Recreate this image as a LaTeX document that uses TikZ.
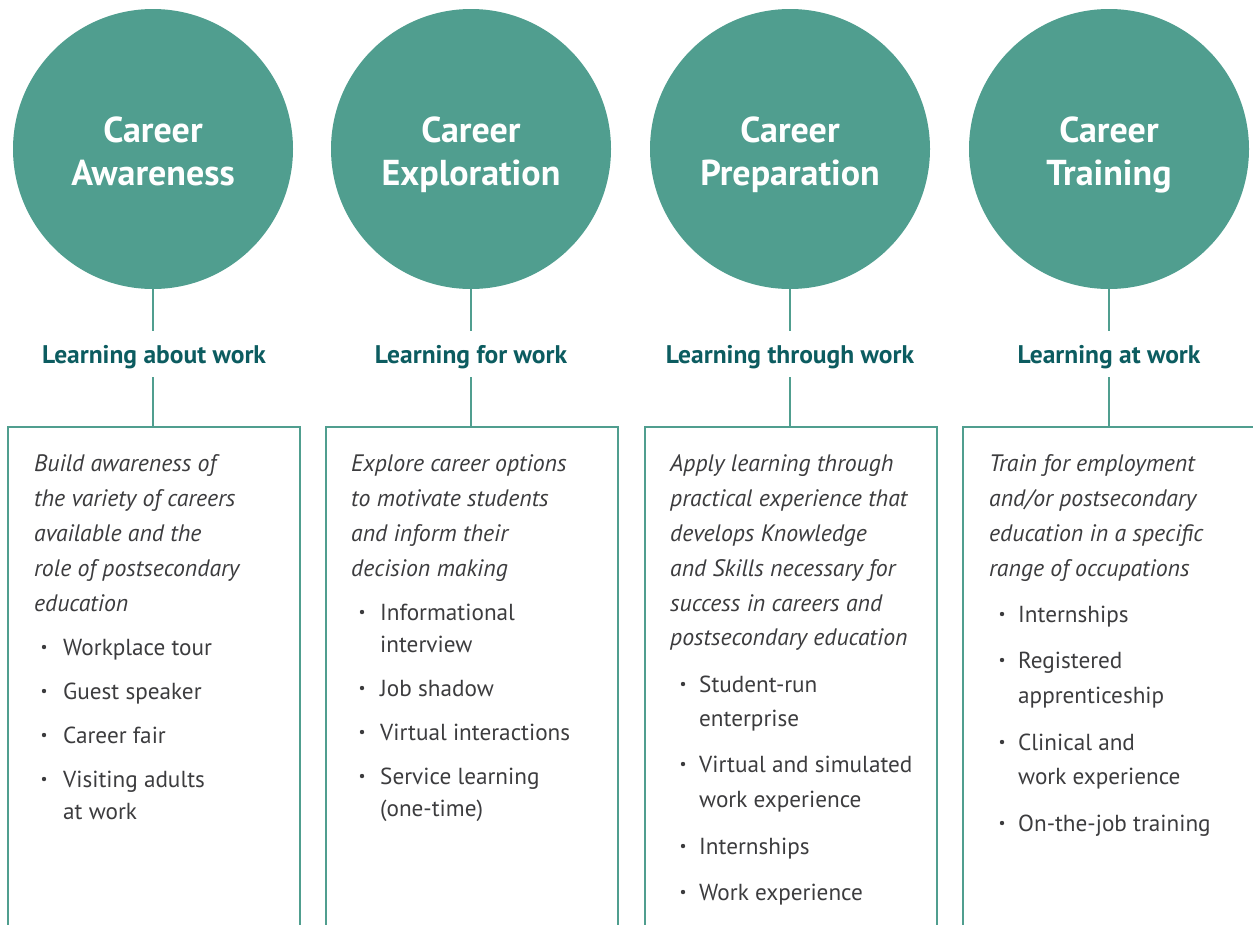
\documentclass[tikz,border=0pt]{standalone}
\usepackage{fontspec}
\setmainfont{PT Sans}
\definecolor{tealA}{RGB}{80,158,143}
\definecolor{labc}{RGB}{12,92,96}
\definecolor{txtc}{RGB}{60,60,62}
\begin{document}
\begin{tikzpicture}[x=1pt,y=-1pt,
 circ/.style={circle,fill=tealA,minimum size=280pt,inner sep=0pt},
 ctext/.style={anchor=north,text=white,font=\fontsize{36}{43}\selectfont\bfseries,align=center,inner sep=0pt},
 lab/.style={anchor=base,text=labc,font=\fontsize{25.5}{30}\selectfont\bfseries,inner sep=0pt},
 link/.style={draw=tealA,line width=2.5pt},
 boxl/.style={draw=tealA,line width=2.5pt},
 desc/.style={anchor=base west,inner sep=0pt,text=txtc,font=\fontsize{23.8}{35}\selectfont\itshape},
 itm/.style={anchor=base west,inner sep=0pt,text=txtc,font=\fontsize{23.2}{30}\selectfont},
 dotc/.style={fill=txtc}
]
\useasboundingbox (0,0) rectangle (1253,924);
% circles
\node[circ] (c1) at (153,149) {};
\node[circ] (c2) at (471,149) {};
\node[circ] (c3) at (790,149) {};
\node[circ] (c4) at (1109,149) {};
\node[ctext] (t1) at (153,117) {Career\\Awareness};
\node[ctext] (t2) at (471,117) {Career\\Exploration};
\node[ctext] (t3) at (790,117) {Career\\Preparation};
\node[ctext] (t4) at (1109,117) {Career\\Training};
% labels
\node[lab] (l1) at (154,363) {Learning about work};
\node[lab] (l2) at (471,363) {Learning for work};
\node[lab] (l3) at (790,363) {Learning through work};
\node[lab] (l4) at (1109,363) {Learning at work};
\foreach \i/\x in {1/153,2/471,3/790,4/1109}{
  \coordinate (u\i) at (\x,331);
  \coordinate (v\i) at (\x,377);
  \coordinate (b\i) at (\x,427);
}
\draw[boxl] (8,940) -- (8,427) -- (300,427) -- (300,940);
\draw[boxl] (326,940) -- (326,427) -- (618,427) -- (618,940);
\draw[boxl] (645,940) -- (645,427) -- (937,427) -- (937,940);
\draw[boxl] (963,940) -- (963,427) -- (1270,427);
% connectors
\foreach \i in {1,2,3,4}{
  \draw[link] (c\i.south) -- (u\i);
  \draw[link] (v\i) -- (b\i);
}
% box 1
\foreach \y/\t [count=\i] in {471/Build awareness of,506/the variety of careers,541/available and the,576/role of postsecondary,611/education}
  \node[desc] (da\i) at (34,\y) {\t};
\foreach \y/\t/\d [count=\i] in {655/Workplace tour/1,699/Guest speaker/1,743/Career fair/1,787/Visiting adults/1,819/at work/0}{
  \node[itm] (ia\i) at (63,\y) {\t};
  \ifnum\d=1 \fill[dotc] (44,\y-8) circle (2.2); \fi
}
% box 2
\foreach \y/\t [count=\i] in {471/Explore career options,506/to motivate students,541/and inform their,576/decision making}
  \node[desc] (db\i) at (351,\y) {\t};
\foreach \y/\t/\d [count=\i] in {620/Informational/1,652/interview/0,696/Job shadow/1,740/Virtual interactions/1,784/Service learning/1,816/(one-time)/0}{
  \node[itm] (ib\i) at (380,\y) {\t};
  \ifnum\d=1 \fill[dotc] (362,\y-8) circle (2.2); \fi
}
% box 3
\foreach \y/\t [count=\i] in {471/Apply learning through,506/practical experience that,541/develops Knowledge,576/and Skills necessary for,611/success in careers and,645/postsecondary education}
  \node[desc] (dc\i) at (670,\y) {\t};
\foreach \y/\t/\d [count=\i] in {692/Student-run/1,726/enterprise/0,772/Virtual and simulated/1,807/work experience/0,854/Internships/1,900/Work experience/1}{
  \node[itm] (ic\i) at (699,\y) {\t};
  \ifnum\d=1 \fill[dotc] (683,\y-8) circle (2.2); \fi
}
% box 4
\foreach \y/\t [count=\i] in {471/Train for employment,506/{and/or postsecondary},541/education in a specific,576/range of occupations}
  \node[desc] (dd\i) at (989,\y) {\t};
\foreach \y/\t/\d [count=\i] in {622/Internships/1,668/Registered/1,703/apprenticeship/0,750/Clinical and/1,784/work experience/0,831/On-the-job training/1}{
  \node[itm] (id\i) at (1018,\y) {\t};
  \ifnum\d=1 \fill[dotc] (1002,\y-8) circle (2.2); \fi
}
\end{tikzpicture}
\end{document}
